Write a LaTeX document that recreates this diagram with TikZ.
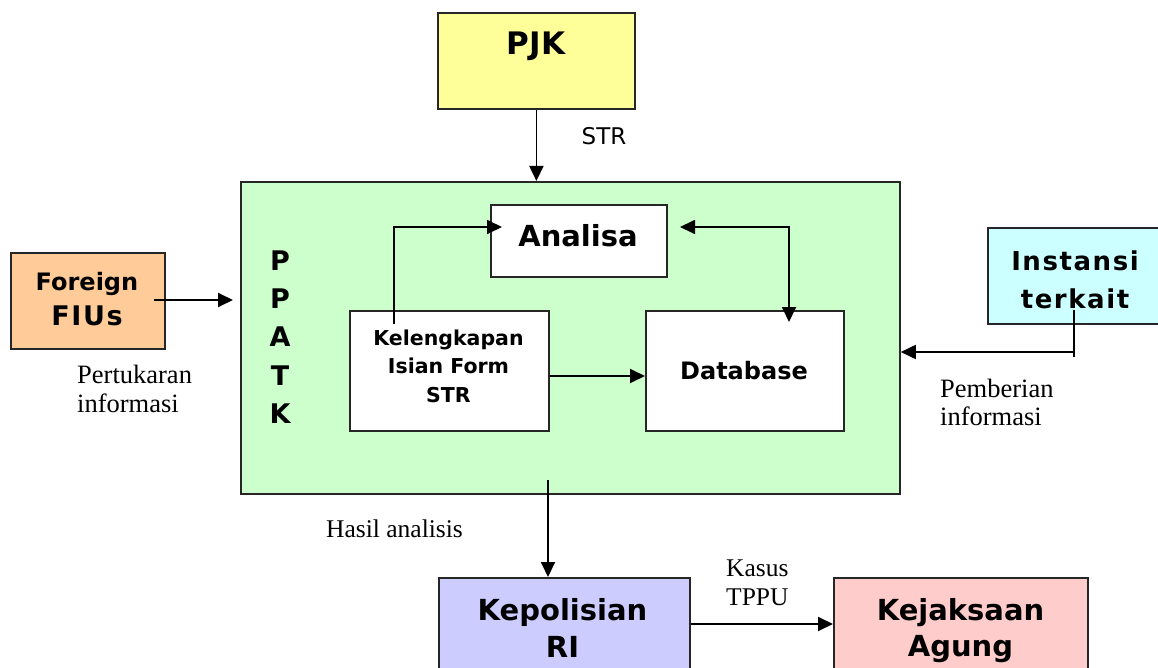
\documentclass[tikz,border=0pt]{standalone}
\usepackage{fontspec}
\setmainfont{Liberation Serif}
\newfontfamily\tah{DejaVu Sans}
\newfontfamily\tahsp[LetterSpace=6]{DejaVu Sans}
\usetikzlibrary{arrows.meta}
\newcommand\myfs[1]{\fontsize{#1pt}{#1pt}\selectfont}
\definecolor{cyel}{HTML}{FFFF99}
\definecolor{cgrn}{HTML}{CCFFCC}
\definecolor{corg}{HTML}{FFCC99}
\definecolor{ccyn}{HTML}{CCFFFF}
\definecolor{cblu}{HTML}{CCCCFF}
\definecolor{cpnk}{HTML}{FFCCCC}
\begin{document}
\begin{tikzpicture}[x=1pt,y=-1pt,
  box/.style={draw=black!85, line width=1.8pt, inner sep=0pt, anchor=north west},
  arr/.style={line width=1.8pt, -{Triangle[length=15pt,width=14pt]}},
  darr/.style={line width=1.8pt, {Triangle[length=15pt,width=14pt]}-{Triangle[length=15pt,width=14pt]}},
  ln/.style={line width=1.8pt},
  bt/.style={anchor=base, inner sep=0pt, font=\tah\bfseries},
  st/.style={anchor=base west, inner sep=0pt, font=\myfs{26.5}}]
\useasboundingbox (0,0) rectangle (1158,668);
\clip (0,0) rectangle (1158,668);
% boxes
\node[box, fill=cyel, minimum width=197pt, minimum height=96pt] (pjk) at (437,12) {};
\node[box, fill=cgrn, minimum width=659pt, minimum height=312pt] (ppatk) at (240,181) {};
\node[box, fill=white, minimum width=176pt, minimum height=72pt] (ana) at (490,204) {};
\node[box, fill=white, minimum width=199pt, minimum height=120pt] (kel) at (349,310) {};
\node[box, fill=white, minimum width=198pt, minimum height=120pt] (db) at (645,310) {};
\node[box, fill=corg, minimum width=154pt, minimum height=96pt] (fiu) at (10,252) {};
\node[box, fill=ccyn, minimum width=200pt, minimum height=96pt] (ins) at (987,227) {};
\node[box, fill=cblu, minimum width=251pt, minimum height=120pt] (kep) at (438,577) {};
\node[box, fill=cpnk, minimum width=254pt, minimum height=120pt] (kej) at (833,577) {};
% box texts
\node[bt, font=\tah\bfseries\myfs{31}] (tpjk) at (536,55) {PJK};
\node[bt, font=\tah\myfs{23}] (tstr) at (604,145) {STR};
\node[bt, font=\tah\bfseries\myfs{29}] (tana) at (578,246.5) {Analisa};
\node[bt, font=\tah\bfseries\myfs{20.5}] (tkel1) at (448.5,345) {Kelengkapan};
\node[bt, font=\tah\bfseries\myfs{20.5}] (tkel2) at (448.5,373) {Isian Form};
\node[bt, font=\tah\bfseries\myfs{20.5}] (tkel3) at (448.5,402) {STR};
\node[bt, font=\tah\bfseries\myfs{24}] (tdb) at (744,379) {Database};
\node[bt, font=\tah\bfseries\myfs{27}] (tp1) at (280,270) {P};
\node[bt, font=\tah\bfseries\myfs{27}] (tp2) at (280,308.3) {P};
\node[bt, font=\tah\bfseries\myfs{27}] (tp3) at (280,346.7) {A};
\node[bt, font=\tah\bfseries\myfs{27}] (tp4) at (280,385) {T};
\node[bt, font=\tah\bfseries\myfs{27}] (tp5) at (280,423.3) {K};
\node[bt, font=\tah\bfseries\myfs{24}] (tfiu1) at (87,290) {Foreign};
\node[bt, font=\tahsp\bfseries\myfs{27}] (tfiu2) at (87,325) {FIUs};
\node[bt, font=\tahsp\bfseries\myfs{26}] (tins1) at (1075,270) {Instansi};
\node[bt, font=\tahsp\bfseries\myfs{26}] (tins2) at (1075,308) {terkait};
\node[bt, font=\tah\bfseries\myfs{29}] (tkep1) at (562.5,620) {Kepolisian};
\node[bt, font=\tah\bfseries\myfs{29}] (tkep2) at (562.5,657) {RI};
\node[bt, font=\tah\bfseries\myfs{29}] (tkej1) at (960.5,620) {Kejaksaan};
\node[bt, font=\tah\bfseries\myfs{29}] (tkej2) at (960.5,656) {Agung};
% serif labels
\node[st] (lpt1) at (77,383) {Pertukaran};
\node[st] (lpt2) at (77,412) {informasi};
\node[st] (lpb1) at (940,397) {Pemberian};
\node[st] (lpb2) at (940,425) {informasi};
\node[st, font=\myfs{25.5}] (lha) at (326,537) {Hasil analisis};
\node[st, font=\myfs{25.5}] (lks1) at (726,576) {Kasus};
\node[st, font=\myfs{25.5}] (lks2) at (726,605) {TPPU};
% connectors
\draw[arr] (pjk.south) -- (pjk.south |- ppatk.north);
\coordinate (f1) at (154,300);
\coordinate (f2) at (233,300);
\draw[arr] (f1) -- (f2);
\coordinate (k1) at (394,324);
\coordinate (a1) at (502,227);
\draw[arr] (k1) |- (a1);
\coordinate (a2) at (680,227);
\coordinate (d1) at (789,322);
\draw[darr] (a2) -| (d1);
\coordinate (k2) at (600,376);
\draw[arr] (kel.east |- k2) -- (db.west |- k2);
\coordinate (i1) at (1074,310);
\coordinate (i2) at (1074,357);
\coordinate (i3) at (1074,352);
\draw[ln] (i1) -- (i2);
\draw[arr] (i3) -- (ppatk.east |- i3);
\coordinate (p1) at (548,480);
\draw[arr] (p1) -- (p1 |- kep.north);
\coordinate (k3) at (700,624);
\draw[arr] (kep.east |- k3) -- (kej.west |- k3);
\end{tikzpicture}
\end{document}
